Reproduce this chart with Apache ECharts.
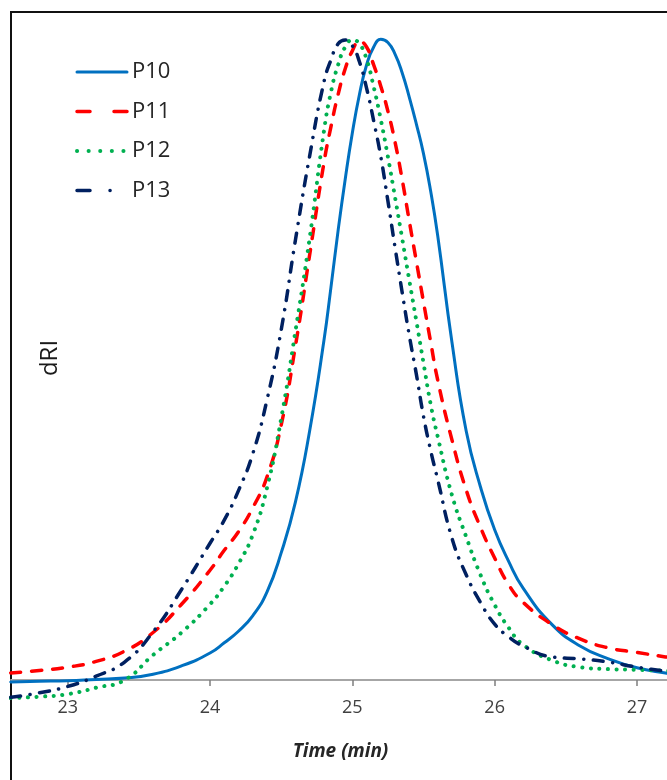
<!DOCTYPE html>
<html>
<head>
<meta charset="utf-8">
<script src="https://cdn.jsdelivr.net/npm/echarts@6/dist/echarts.min.js"></script>
<style>
html,body{margin:0;padding:0;background:#fff;}
#chart{width:667px;height:780px;}
</style>
</head>
<body>
<div id="chart"></div>
<script>
const times = [22.6, 22.8, 23.0, 23.2, 23.4, 23.6, 23.8, 24.0, 24.1, 24.2, 24.3, 24.4, 24.5, 24.6, 24.7, 24.8, 24.85, 24.9, 24.95, 25.0, 25.05, 25.1, 25.15, 25.2, 25.25, 25.3, 25.35, 25.4, 25.45, 25.5, 25.55, 25.6, 25.7, 25.8, 25.9, 26.0, 26.1, 26.2, 26.4, 26.6, 26.8, 27.0, 27.2, 27.25];
const p10 = [-0.003, -0.002, -0.001, 0.001, 0.003, 0.009, 0.022, 0.042, 0.058, 0.076, 0.100, 0.137, 0.198, 0.277, 0.388, 0.528, 0.612, 0.700, 0.780, 0.852, 0.912, 0.958, 0.986, 0.998, 0.993, 0.975, 0.946, 0.908, 0.866, 0.820, 0.762, 0.692, 0.526, 0.388, 0.301, 0.234, 0.184, 0.143, 0.087, 0.053, 0.033, 0.019, 0.011, 0.010];
const p11 = [0.011, 0.015, 0.020, 0.029, 0.045, 0.074, 0.118, 0.171, 0.202, 0.231, 0.268, 0.316, 0.397, 0.520, 0.662, 0.805, 0.862, 0.912, 0.952, 0.980, 0.995, 0.986, 0.958, 0.925, 0.886, 0.838, 0.780, 0.715, 0.652, 0.589, 0.527, 0.467, 0.374, 0.296, 0.238, 0.190, 0.148, 0.121, 0.087, 0.064, 0.050, 0.043, 0.036, 0.035];
const p12 = [-0.028, -0.026, -0.022, -0.012, 0.000, 0.039, 0.074, 0.118, 0.146, 0.181, 0.226, 0.299, 0.407, 0.543, 0.688, 0.854, 0.916, 0.958, 0.986, 0.997, 0.991, 0.967, 0.924, 0.873, 0.815, 0.752, 0.688, 0.623, 0.559, 0.494, 0.430, 0.379, 0.288, 0.223, 0.164, 0.117, 0.081, 0.055, 0.031, 0.020, 0.017, 0.016, 0.0145, 0.014];
const p13 = [-0.027, -0.020, -0.010, 0.006, 0.028, 0.075, 0.141, 0.213, 0.249, 0.295, 0.352, 0.436, 0.545, 0.685, 0.816, 0.931, 0.966, 0.991, 0.997, 0.988, 0.963, 0.922, 0.871, 0.815, 0.746, 0.674, 0.604, 0.537, 0.476, 0.411, 0.358, 0.312, 0.221, 0.164, 0.121, 0.087, 0.067, 0.053, 0.036, 0.033, 0.028, 0.020, 0.014, 0.013];
const seriesNames = ['P10', 'P11', 'P12', 'P13'];
const tickValues = [23, 24, 25, 26, 27];
const xLabel = 'Time (min)';
const yLabel = 'dRI';

const allValues = [p10, p11, p12, p13];
const colors = ['#0070C0', '#FF0000', '#00B050', '#002060'];
const dashes = ['solid', [10, 11], [0.1, 8.5], [10, 9.5, 0.1, 9.5]];
const legendDashes = ['solid', [13, 24], [0.1, 11.5], [13, 20, 0.1, 40]];
const widths = [3, 3.5, 4, 3.5];
const X_MIN = 22.6018, X_MAX = 27.232;

const chart = echarts.init(document.getElementById('chart'), null, {renderer: 'canvas'});
const font = '"Open Sans", "Liberation Sans", sans-serif';

const series = seriesNames.map((name, i) => ({
  name: name,
  type: 'line',
  xAxisIndex: 0, yAxisIndex: 0,
  data: times.map((t, j) => [t, allValues[i][j]]),
  showSymbol: false,
  symbol: 'none',
  smooth: 0.5,
  lineStyle: {color: colors[i], width: widths[i], type: dashes[i], cap: 'round', join: 'round'},
  itemStyle: {color: colors[i]},
  z: 2
}));

chart.setOption({
  animation: false,
  backgroundColor: '#fff',
  grid: [
    {left: 11, top: 12, right: -3, bottom: -3, show: true, borderColor: '#111', borderWidth: 2, backgroundColor: 'transparent', outerBoundsMode: 'none', containLabel: false},
    {left: 11, top: 670, right: -3, height: 10, show: false, outerBoundsMode: 'none', containLabel: false}
  ],
  legend: {
    orient: 'vertical', left: 70, top: 56,
    itemWidth: 50, itemHeight: 20, itemGap: 17.5,
    itemStyle: {opacity: 0},
    textStyle: {fontSize: 22, color: '#262626', fontFamily: font},
    data: seriesNames.map((name, i) => ({
      name: name,
      lineStyle: {color: colors[i], width: widths[i], type: legendDashes[i], cap: 'round'}
    }))
  },
  xAxis: [{
    gridIndex: 0, type: 'value', min: X_MIN, max: X_MAX,
    splitLine: {show: false}, axisLine: {show: false}, axisTick: {show: false}, axisLabel: {show: false}
  }, {
    gridIndex: 1, type: 'value', min: X_MIN, max: X_MAX, position: 'bottom',
    splitLine: {show: false},
    axisLine: {show: true, onZero: false, lineStyle: {color: '#a6a6a6', width: 2}},
    axisTick: {show: true, customValues: tickValues, length: 6, lineStyle: {color: '#7f7f7f', width: 1.5}},
    axisLabel: {customValues: tickValues, fontSize: 18, color: '#404040', margin: 19, fontFamily: font},
    name: xLabel, nameLocation: 'middle', nameGap: 62,
    nameTextStyle: {fontSize: 19, fontStyle: 'italic', fontWeight: 'bold', color: '#262626', fontFamily: font}
  }],
  yAxis: [{
    gridIndex: 0, type: 'value', min: -0.1604, max: 1.0405,
    axisLine: {show: false}, axisTick: {show: false}, axisLabel: {show: false}, splitLine: {show: false}
  }, {
    gridIndex: 1, type: 'value', min: 0, max: 1,
    axisLine: {show: false}, axisTick: {show: false}, axisLabel: {show: false}, splitLine: {show: false}
  }],
  graphic: [{
    type: 'text', x: 50, y: 358, rotation: Math.PI / 2,
    style: {text: yLabel, fill: '#1a1a1a', font: '24px ' + font, textAlign: 'center', textVerticalAlign: 'middle'}
  }],
  series: series
});
</script>
</body>
</html>
